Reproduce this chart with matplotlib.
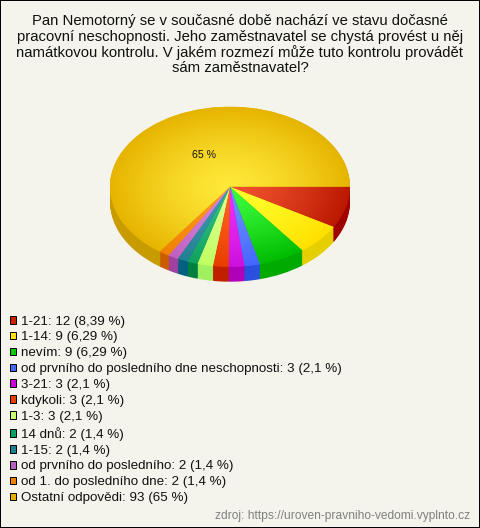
import numpy as np
import matplotlib
matplotlib.use("Agg")
import matplotlib.pyplot as plt
from matplotlib.patches import Patch

plt.rcParams['font.family'] = ['Liberation Sans', 'DejaVu Sans']

# ---- data ----
title = ("Pan Nemotorný se v současné době nachází ve stavu dočasné\n"
         "pracovní neschopnosti. Jeho zaměstnavatel se chystá provést u něj\n"
         "namátkovou kontrolu. V jakém rozmezí může tuto kontrolu provádět\n"
         "sám zaměstnavatel?")
categories = ["1-21", "1-14", "nevím", "od prvního do posledního dne neschopnosti",
              "3-21", "kdykoli", "1-3", "14 dnů", "1-15",
              "od prvního do posledního", "od 1. do posledního dne", "Ostatní odpovědi"]
values = [12, 9, 9, 3, 3, 3, 3, 2, 2, 2, 2, 93]
percents = ["8,39", "6,29", "6,29", "2,1", "2,1", "2,1", "2,1", "1,4", "1,4", "1,4", "1,4", "65"]
source = "zdroj: https://uroven-pravniho-vedomi.vyplnto.cz"

# ---- style ----
inner = ["#f0522e", "#ffff2c", "#3cfb3c", "#6c90ff", "#ee30f6", "#ff6420",
         "#dcff90", "#30c080", "#4098b0", "#d488e0", "#ff9a20", "#ffe838"]
outer = ["#bb1800", "#ffe000", "#00bb00", "#4466ff", "#cc10dd", "#e83c00",
         "#c0ff60", "#10a060", "#208090", "#c060c0", "#f08000", "#e6b400"]
side = ["#a00000", "#e6cf00", "#00aa00", "#2a50e0", "#b000b8", "#c02000",
        "#a0f060", "#008040", "#006080", "#a040a0", "#cc5c00", "#c89c00"]
swatch = ["#cc2200", "#ffe000", "#00cc00", "#4466ff", "#cc00dd", "#e84000",
          "#c8ff70", "#00a060", "#208090", "#b860c0", "#f08000", "#e6b000"]
BG = "#f4f4ec"
W, H = 480, 528
DEPTH = 15 / 80

fig = plt.figure(figsize=(W / 100, H / 100), dpi=100, facecolor=BG, edgecolor="black", linewidth=1.44)
top_px, bottom_px = 106.7, 282.0
ax = fig.add_axes([110 / W, 1 - bottom_px / H, 240 / W, (bottom_px - top_px) / H])

rgb = lambda c: np.array(matplotlib.colors.to_rgb(c))

# extruded side: stacked copies of the pie
for off in np.linspace(DEPTH, 0.01, 16):
    ax.pie(values, colors=side, radius=1, center=(0, -off), startangle=0, counterclock=False,
           wedgeprops=dict(linewidth=0), frame=False)

# top surface with radial shading
wedges, _ = ax.pie(values, colors=outer, radius=1, center=(0, 0), startangle=0, counterclock=False,
                   wedgeprops=dict(linewidth=0), frame=False)
xx, yy = np.meshgrid(np.linspace(-1, 1, 480), np.linspace(1, -1, 320))
r = np.clip(np.hypot(xx, yy), 0, 1)[..., None] ** 1.4
for w, ci, co in zip(wedges, inner, outer):
    img = rgb(ci) * (1 - r) + rgb(co) * r
    im = ax.imshow(img, extent=(-1, 1, -1, 1), aspect="auto", zorder=3, interpolation="bilinear")
    im.set_clip_path(w)

ax.text(-0.215, 0.395, "65 %", fontsize=7.6, ha="center", va="center", color="#111111", zorder=5)
ax.set_xlim(-1, 1)
ax.set_ylim(-1 - (bottom_px - top_px - 160) / 80, 1)
ax.set_aspect("auto")
ax.axis("off")

fig.text(0.5, 1 - 14.3 / H, title, fontsize=10.7, ha="center", va="top", linespacing=1.11, color="#111111")

handles = [Patch(facecolor=c, edgecolor="black", linewidth=0.7) for c in swatch]
labels = [f"{c}: {v} ({p} %)" for c, v, p in zip(categories, values, percents)]
fig.legend(handles, labels, loc="upper left", bbox_to_anchor=(9.5 / W, 1 - 315.5 / H), frameon=False,
           fontsize=9.66, labelspacing=0.29, handlelength=0.5, handleheight=0.5, handletextpad=0.32,
           borderpad=0, borderaxespad=0, labelcolor="#111111")

fig.text(470 / W, 1 - 516 / H, source, fontsize=8.65, ha="right", va="center", color="#808080")

fig.savefig("out.png", dpi=100)
